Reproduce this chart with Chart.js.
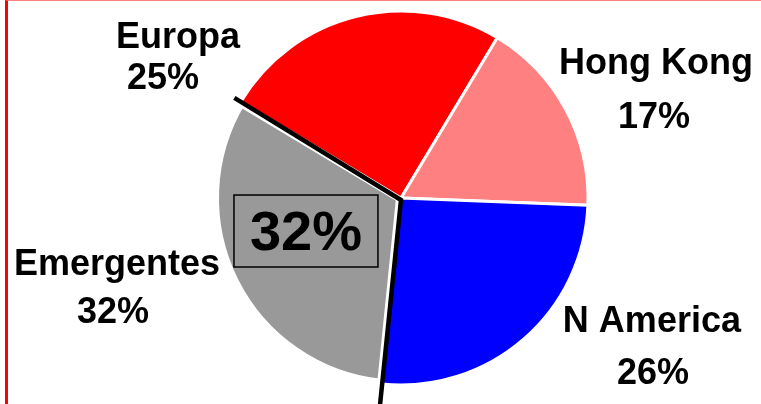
<!DOCTYPE html>
<html>
<head>
<meta charset="utf-8">
<script src="https://cdn.jsdelivr.net/npm/chart.js@4/dist/chart.umd.min.js"></script>
<style>
  html, body { margin: 0; padding: 0; background: #fff; }
  #wrap { position: relative; width: 761px; height: 404px; overflow: hidden; }
  #chart { position: absolute; left: 0; top: 0; }
  #frame {
    position: absolute; left: 5px; top: 0; right: 0; bottom: 0;
    border-left: 3px solid #ff0000; border-top: 1px solid #ff8080;
    pointer-events: none;
  }
</style>
</head>
<body>
<div id="wrap">
  <canvas id="chart" width="761" height="404"></canvas>
  <div id="frame"></div>
</div>
<script>
// clockwise from the lower cut line
const regions = ["Emergentes", "Europa", "Hong Kong", "N America"];
const shares = [32, 25, 17, 26];
const sliceColors = ["#999999", "#ff0000", "#ff8080", "#0000ff"];
const highlighted = "Emergentes";

// label spots, in units of the pie radius, measured from the pie centre
// [name line x, name line baseline, pct line x, pct line baseline]
const labelSpots = {
  "Hong Kong": [1.371, -0.667, 1.36, -0.377],
  "N America": [1.349, 0.72, 1.355, 1.0],
  "Emergentes": [-1.527, 0.414, -1.548, 0.672],
  "Europa": [-1.199, -0.807, -1.28, -0.586],
};

const total = shares.reduce((a, b) => a + b, 0);
const pct = (v) => Math.round((v / total) * 100) + "%";
const hiIndex = regions.indexOf(highlighted);

const labelPlugin = {
  id: "sliceLabels",
  afterDatasetsDraw(chart) {
    const ctx = chart.ctx;
    const arcs = chart.getDatasetMeta(0).data;
    const cx = arcs[0].x;
    const cy = arcs[0].y;
    const r = 186;

    // black cut line along the edges of the highlighted slice
    const hi = arcs[hiIndex];
    ctx.save();
    ctx.strokeStyle = "#000";
    ctx.lineWidth = 4.5;
    ctx.beginPath();
    ctx.moveTo(cx + Math.cos(hi.endAngle) * r * 1.045, cy + Math.sin(hi.endAngle) * r * 1.045);
    ctx.lineTo(cx, cy + 2);
    ctx.lineTo(cx + Math.cos(hi.startAngle) * r * 1.3, cy + Math.sin(hi.startAngle) * r * 1.3);
    ctx.stroke();
    ctx.restore();

    // outside labels
    ctx.save();
    ctx.fillStyle = "#000";
    ctx.textAlign = "center";
    ctx.textBaseline = "alphabetic";
    ctx.font = "bold 36px 'Liberation Sans', Arial, sans-serif";
    regions.forEach((name, i) => {
      const s = labelSpots[name];
      ctx.fillText(name, cx + s[0] * r, cy + s[1] * r);
      ctx.fillText(pct(shares[i]), cx + s[2] * r, cy + s[3] * r);
    });

    // boxed value inside the highlighted slice
    const bx = cx - 0.898 * r;
    const by = cy - 0.016 * r;
    const bw = 0.774 * r;
    const bh = 0.387 * r;
    ctx.fillStyle = sliceColors[hiIndex];
    ctx.fillRect(bx, by, bw, bh);
    ctx.strokeStyle = "#000";
    ctx.lineWidth = 1.5;
    ctx.strokeRect(bx, by, bw, bh);
    ctx.fillStyle = "#000";
    ctx.font = "bold 56px 'Liberation Sans', Arial, sans-serif";
    ctx.fillText(pct(shares[hiIndex]), cx - 0.511 * r, cy + 0.28 * r);
    ctx.restore();
  },
};

new Chart(document.getElementById("chart"), {
  type: "pie",
  data: {
    labels: regions,
    datasets: [
      {
        data: shares,
        backgroundColor: sliceColors,
        borderColor: "#fff",
        borderWidth: regions.map((name) => (name === highlighted ? 10 : 3)),
      },
    ],
  },
  options: {
    responsive: false,
    animation: false,
    rotation: 185.8,
    radius: 187,
    layout: {
      padding: { left: 41, right: 0, top: 0, bottom: 8 },
    },
    plugins: {
      legend: { display: false },
      tooltip: { enabled: false },
    },
  },
  plugins: [labelPlugin],
});
</script>
</body>
</html>
